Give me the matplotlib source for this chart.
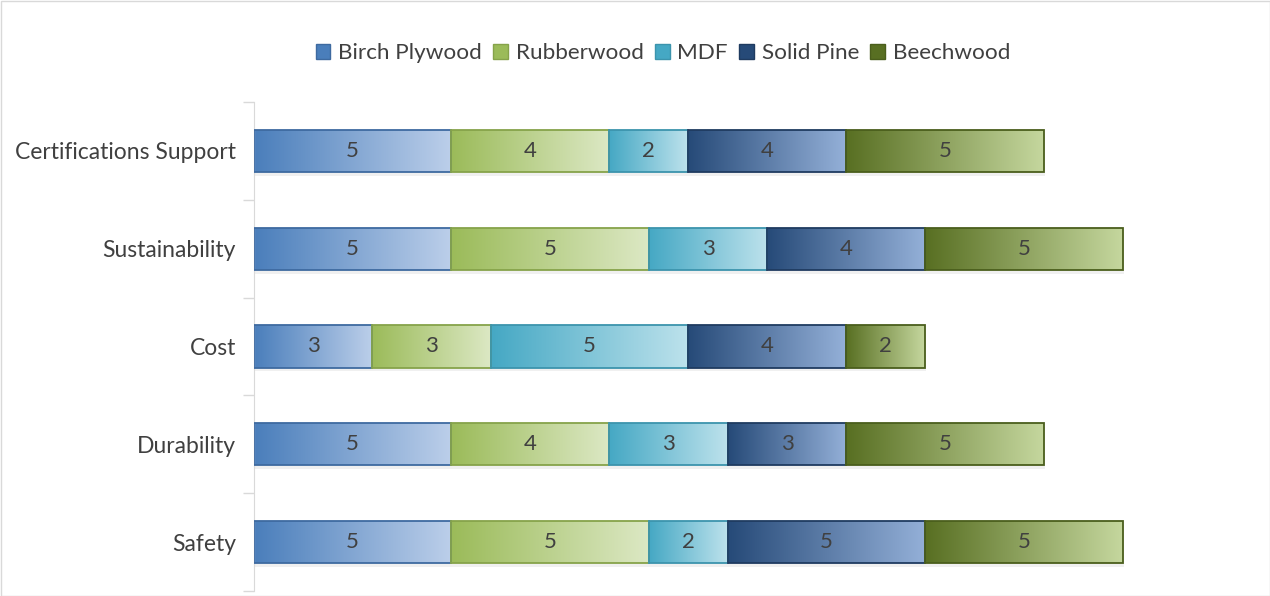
import matplotlib
matplotlib.use('Agg')
import matplotlib.pyplot as plt
import numpy as np
from matplotlib.colors import LinearSegmentedColormap
from matplotlib.patches import Rectangle, Patch

plt.rcParams['font.family'] = ['Lato', 'DejaVu Sans']

categories = ['Safety', 'Durability', 'Cost', 'Sustainability', 'Certifications Support']
series = ['Birch Plywood', 'Rubberwood', 'MDF', 'Solid Pine', 'Beechwood']
birch = [5, 5, 3, 5, 5]
rubber = [5, 4, 3, 5, 4]
mdf = [2, 3, 5, 3, 2]
pine = [5, 3, 4, 4, 4]
beech = [5, 5, 2, 5, 5]
values = [birch, rubber, mdf, pine, beech]

# gradient start (dark), end (light), edge
grad = [('#4a7ebb', '#bccfea', '#3e6aa0'),
        ('#9bbb59', '#dce8c4', '#86a34a'),
        ('#45a8c4', '#bde2ec', '#3c94ad'),
        ('#264a78', '#94b0d8', '#1f3b60'),
        ('#586f22', '#c5d79e', '#4a5e1c')]

fig = plt.figure(figsize=(12.7, 5.96), dpi=100)
ax = fig.add_axes([254 / 1270, 1 - 591 / 596, 987 / 1270, 489 / 596])

h = 0.43
y = np.arange(len(categories))
left = np.zeros(len(categories))
g = np.linspace(0, 1, 256).reshape(1, -1)
for vals, name, (c0, c1, ec) in zip(values, series, grad):
    cmap = LinearSegmentedColormap.from_list(name, [c0, c1])
    for i, v in enumerate(vals):
        # soft shadow
        ax.add_patch(Rectangle((left[i] + 0.03, y[i] - h / 2 - 0.04), v, h,
                               facecolor='#000000', alpha=0.06, lw=0, zorder=1))
        rect = Rectangle((left[i], y[i] - h / 2), v, h, facecolor='none',
                         edgecolor=ec, lw=1.3, zorder=3)
        ax.add_patch(rect)
        im = ax.imshow(g, cmap=cmap, aspect='auto', zorder=2,
                       extent=(left[i], left[i] + v, y[i] - h / 2, y[i] + h / 2))
        im.set_clip_path(rect)
        ax.text(left[i] + v / 2, y[i], str(v), ha='center', va='center',
                fontsize=16, color='#404040', zorder=4)
    left += np.array(vals)

ax.set_xlim(0, 25)
ax.set_ylim(-0.5, len(categories) - 0.5)
ax.set_yticks(y)
ax.set_yticklabels(categories, fontsize=16.5, color='#404040')
ax.set_yticks(np.arange(-0.5, len(categories), 1), minor=True)
ax.tick_params(axis='y', which='major', length=0, pad=13)
ax.tick_params(axis='y', which='minor', length=8, color='#d9d9d9', width=1)
ax.set_xticks([])
for s in ['top', 'right', 'bottom']:
    ax.spines[s].set_visible(False)
ax.spines['left'].set_color('#d9d9d9')

handles = [Patch(facecolor=c0, edgecolor=ec, label=n) for n, (c0, c1, ec) in zip(series, grad)]
fig.legend(handles=handles, loc='center', bbox_to_anchor=(663 / 1270, 1 - 53 / 596), ncol=5,
           frameon=False, fontsize=16.2, handlelength=0.65, handleheight=0.65,
           handletextpad=0.35, columnspacing=0.5, labelcolor='#404040')

fig.add_artist(Rectangle((0.5 / 1270, 0.5 / 596), 1 - 1 / 1270, 1 - 1 / 596,
                         transform=fig.transFigure, fill=False, edgecolor='#d9d9d9', lw=1))

fig.savefig('out.png', dpi=100)
